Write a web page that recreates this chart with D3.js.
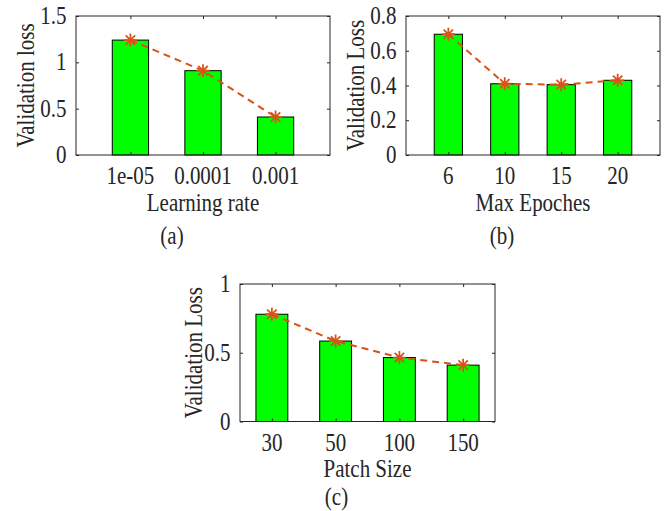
<!DOCTYPE html>
<html>
<head>
  <script src="https://d3js.org/d3.v7.min.js"></script>
  <style>
    body { margin: 0; background: #fff; }
    text { font-family: "Liberation Serif", "Times New Roman", serif; fill: #262626; }
  </style>
</head>
<body>
  <script>
    // data
    var lrLabels = ["1e-05", "0.0001", "0.001"];
    var lrLoss = [1.24, 0.91, 0.41];

    var epochLabels = ["6", "10", "15", "20"];
    var epochLoss = [0.695, 0.41, 0.405, 0.43];

    var patchLabels = ["30", "50", "100", "150"];
    var patchLoss = [0.78, 0.585, 0.465, 0.41];

    var yTicksA = [0, 0.5, 1, 1.5];
    var yTicksB = [0, 0.2, 0.4, 0.6, 0.8];
    var yTicksC = [0, 0.5, 1];

    var svg = d3.select("body").append("svg")
      .attr("width", 667)
      .attr("height", 511);

    var axisColor = "#262626";
    var lineColor = "#D95319";
    var fs = 21, stretch = 1.15;   // the reference text looks a bit tall

    // text placed at a baseline point, slightly stretched vertically
    function label(g, x, y, str, anchor, rot) {
      return g.append("text")
        .attr("transform", "translate(" + x + "," + y + ")" + (rot ? " rotate(" + rot + ")" : "") +
          " scale(1," + stretch + ")")
        .attr("text-anchor", anchor || "middle")
        .attr("font-size", fs)
        .text(str);
    }

    function drawPanel(p) {
      var n = p.labels.length;
      var x = d3.scaleLinear().domain(p.xlim).range([p.left, p.right]);
      var y = d3.scaleLinear().domain([0, p.ymax]).range([p.bottom, p.top]);
      var idx = d3.range(1, n + 1);
      var g = svg.append("g");

      // bars
      g.selectAll("rect.bar").data(p.values).enter().append("rect")
        .attr("class", "bar")
        .attr("x", function (d, i) { return x(i + 1 - 0.25); })
        .attr("width", function () { return x(1.25) - x(0.75); })
        .attr("y", function (d) { return y(d); })
        .attr("height", function (d) { return y(0) - y(d); })
        .attr("fill", "#00ff00")
        .attr("stroke", "#000")
        .attr("stroke-width", 1);

      // box and inward ticks on all four sides
      g.append("rect")
        .attr("x", p.left).attr("y", p.top)
        .attr("width", p.right - p.left).attr("height", p.bottom - p.top)
        .attr("fill", "none").attr("stroke", axisColor).attr("stroke-width", 1);

      var axes = [
        g.append("g").attr("transform", "translate(" + p.left + ",0)")
          .call(d3.axisLeft(y).tickValues(p.yticks).tickSizeInner(-3).tickSizeOuter(0)),
        g.append("g").attr("transform", "translate(" + p.right + ",0)")
          .call(d3.axisRight(y).tickValues(p.yticks).tickSizeInner(-3).tickSizeOuter(0)),
        g.append("g").attr("transform", "translate(0," + p.bottom + ")")
          .call(d3.axisBottom(x).tickValues(idx).tickSizeInner(-3).tickSizeOuter(0)),
        g.append("g").attr("transform", "translate(0," + p.top + ")")
          .call(d3.axisTop(x).tickValues(idx).tickSizeInner(-3).tickSizeOuter(0))
      ];
      axes.forEach(function (a) {
        a.select(".domain").remove();
        a.selectAll("text").remove();
        a.selectAll("line").attr("stroke", axisColor);
      });

      // tick labels
      p.yticks.forEach(function (t) {
        label(g, p.left - 9.5, y(t) + 8, d3.format("")(t), "end");
      });
      idx.forEach(function (i) {
        label(g, x(i), p.bottom + 29, p.labels[i - 1], "middle");
      });

      // dashed trend line with asterisks
      var line = d3.line()
        .x(function (d, i) { return x(i + 1); })
        .y(function (d) { return y(d); });
      g.append("path").datum(p.values)
        .attr("d", line)
        .attr("fill", "none")
        .attr("stroke", lineColor)
        .attr("stroke-width", 2)
        .attr("stroke-dasharray", "7,5");

      var r = 6.5, rd = r * 0.72;
      var star = "M" + (-r) + ",0L" + r + ",0M0," + (-r) + "L0," + r +
        "M" + (-rd) + "," + (-rd) + "L" + rd + "," + rd +
        "M" + (-rd) + "," + rd + "L" + rd + "," + (-rd);
      g.selectAll("path.star").data(p.values).enter().append("path")
        .attr("class", "star")
        .attr("transform", function (d, i) { return "translate(" + x(i + 1) + "," + y(d) + ")"; })
        .attr("d", star)
        .attr("stroke", lineColor)
        .attr("stroke-width", 1.8)
        .attr("fill", "none");

      // axis titles and panel tag
      var cx = (p.left + p.right) / 2;
      label(g, cx, p.bottom + 55.5, p.xlabel, "middle");
      label(g, p.ylabelX, (p.top + p.bottom) / 2, p.ylabel, "middle", -90);
      label(g, cx - 31, p.tagY, p.tag, "middle");
    }

    drawPanel({
      labels: lrLabels, values: lrLoss, yticks: yTicksA, ymax: 1.5,
      xlim: [0.25, 3.75], left: 76, right: 330, top: 16, bottom: 155,
      xlabel: "Learning rate", ylabel: "Validation loss", ylabelX: 34, tag: "(a)", tagY: 243.5
    });
    drawPanel({
      labels: epochLabels, values: epochLoss, yticks: yTicksB, ymax: 0.8,
      xlim: [0.25, 4.75], left: 406, right: 660, top: 16, bottom: 155,
      xlabel: "Max Epoches", ylabel: "Validation Loss", ylabelX: 364, tag: "(b)", tagY: 243.5
    });
    drawPanel({
      labels: patchLabels, values: patchLoss, yticks: yTicksC, ymax: 1,
      xlim: [0.5, 4.5], left: 240, right: 495, top: 284, bottom: 421.5,
      xlabel: "Patch Size", ylabel: "Validation Loss", ylabelX: 202, tag: "(c)", tagY: 505
    });
  </script>
</body>
</html>
